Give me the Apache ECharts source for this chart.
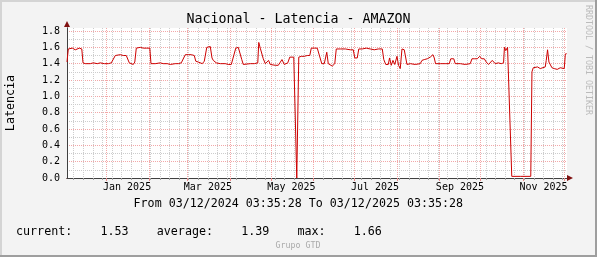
<!DOCTYPE html>
<html>
<head>
<meta charset="utf-8">
<script src="https://cdn.jsdelivr.net/npm/echarts@6/dist/echarts.min.js"></script>
<style>
html,body{margin:0;padding:0;background:#f3f3f3;}
#chart{width:597px;height:257px;}
</style>
</head>
<body>
<div id="chart"></div>
<script>
// ---- data (days since 03/12/2024 03:35:28, latency values) ----
const days = [0,0.95,2.41,3.87,5.33,6.06,7.52,8.98,10.80,11.68,13.36,17.01,19.20,22.12,24.31,27.23,30.15,32.34,33.80,35.26,36.72,38.91,41.09,43.28,44.74,45.47,46.93,48.39,49.49,50.58,52.04,53.50,55.69,57.88,60.44,61.31,64.45,68.10,70.29,71.75,73.21,75.40,76.86,79.05,81.24,83.43,84.89,86.35,88.54,90.73,92.92,94.01,95.84,97.30,98.76,100.22,102.04,103.14,104.60,105.84,106.79,107.88,108.98,111.90,115.55,117.74,119.93,121.39,123.21,125.04,126.50,127.59,128.69,130.15,133.80,136.72,139.27,140.00,141.09,142.19,143.28,144.74,146.20,147.15,148.39,149.85,152.04,154.23,155.69,156.93,157.88,158.61,159.71,161.17,162.63,164.09,165.55,167.01,167.74,168.47,169.20,171.02,173.21,175.40,177.23,178.32,180.51,182.70,184.16,185.99,187.81,188.91,189.64,190.73,192.19,193.65,195.47,196.57,199.49,203.14,206.79,208.98,210.07,211.90,212.99,215.55,218.47,221.39,224.31,227.23,230.15,231.24,232.70,234.53,235.47,236.72,237.96,239.27,240.88,242.04,243.28,244.53,246.20,248.18,250.58,254.23,257.88,259.12,260.80,262.99,265.18,267.15,268.10,269.05,272.48,276.13,279.05,280.15,281.24,282.34,283.43,287.08,290.73,294.38,295.62,297.30,299.49,301.31,302.77,304.60,306.06,307.74,308.98,310.44,311.53,312.63,314.82,317.01,318.69,319.34,320.29,321.02,321.61,322.34,324.67,330.88,338.54,339.42,340.36,341.82,343.50,345.47,346.93,349.12,349.85,350.80,351.82,352.77,354.01,355.69,357.88,360.07,361.53,362.99,363.72,364.45];
const latency = [1.42,1.58,1.60,1.59,1.58,1.57,1.59,1.59,1.58,1.41,1.40,1.40,1.41,1.40,1.41,1.40,1.40,1.41,1.41,1.50,1.51,1.51,1.50,1.50,1.49,1.41,1.40,1.39,1.42,1.59,1.58,1.60,1.59,1.59,1.59,1.40,1.40,1.41,1.40,1.39,1.40,1.39,1.38,1.40,1.40,1.41,1.42,1.51,1.51,1.51,1.50,1.43,1.42,1.43,1.40,1.43,1.60,1.61,1.61,1.47,1.44,1.45,1.41,1.40,1.40,1.39,1.39,1.40,1.59,1.60,1.59,1.45,1.39,1.40,1.40,1.40,1.41,1.66,1.59,1.60,1.46,1.40,1.41,1.44,1.39,1.38,1.38,1.38,1.39,1.45,1.43,1.39,1.40,1.41,1.48,1.48,1.48,1.48,0,0,1.48,1.49,1.49,1.50,1.50,1.59,1.59,1.59,1.58,1.40,1.40,1.42,1.54,1.40,1.38,1.37,1.40,1.58,1.58,1.58,1.57,1.57,1.47,1.47,1.58,1.58,1.59,1.58,1.57,1.58,1.58,1.45,1.39,1.39,1.47,1.38,1.44,1.39,1.49,1.38,1.34,1.58,1.57,1.39,1.40,1.39,1.40,1.44,1.45,1.46,1.48,1.51,1.47,1.40,1.40,1.40,1.40,1.46,1.46,1.46,1.40,1.40,1.39,1.40,1.46,1.46,1.46,1.49,1.46,1.46,1.42,1.39,1.40,1.44,1.44,1.40,1.41,1.40,1.41,1.60,1.56,1.56,1.60,1.58,0.02,0.02,0.02,1.30,1.35,1.35,1.36,1.34,1.35,1.36,1.44,1.57,1.42,1.40,1.35,1.34,1.33,1.35,1.33,1.34,1.50,1.53];

// tick labels
const yTickLabels = [0.0,0.2,0.4,0.6,0.8,1.0,1.2,1.4,1.6,1.8];
const yMinorTicks = [0.1,0.3,0.5,0.7,0.9,1.1,1.3,1.5,1.7];
const xTickLabels = ['Jan 2025','Mar 2025','May 2025','Jul 2025','Sep 2025','Nov 2025'];
const xLabelMonths = [0,2,4,6,8,10];
const statNames = ['current:','average:','max:'];
const statValues = ['1.53','1.39','1.66'];

const titleText = 'Nacional - Latencia - AMAZON';
const rangeText = 'From 03/12/2024 03:35:28 To 03/12/2025 03:35:28';
const yName = 'Latencia';

// ---- axis helpers (calendar) ----
const START = Date.UTC(2024, 11, 3, 3, 35, 28);
const DAYMS = 86400000;
const dayOf = (y, m, d) => (Date.UTC(y, m, d) - START) / DAYMS;
const TOTAL = 365;
const monthStarts = [];
for (let m = 0; m < 12; m++) monthStarts.push(dayOf(2025, m, 1));
const weekLines = [];
for (let d = dayOf(2024, 11, 8); d < TOTAL; d += 7) weekLines.push(d);
const labelPos = xLabelMonths.map(m => dayOf(2025, m, 1) + 15);

const FONT = 'DejaVu Sans Mono';
const seriesData = days.map((d, i) => [d, latency[i]]);

let statLine = '';
statNames.forEach((n, i) => {
  statLine += (i ? '    ' : '') + n + '    ' + statValues[i];
});

const chart = echarts.init(document.getElementById('chart'), null, {renderer: 'canvas'});
const YMAX = 1.8 * 150 / 147;
const MINOR = '#cdcdcd';
const MAJOR = '#f2a8a8';

chart.setOption({
  backgroundColor: '#f3f3f3',
  animation: false,
  grid: {left: 67, right: 30, top: 28, bottom: 79, show: true, backgroundColor: '#ffffff', borderWidth: 0, containLabel: false},
  xAxis: [
    {
      type: 'value', min: 0, max: TOTAL, position: 'bottom',
      axisLine: {show: true, lineStyle: {color: '#801010', width: 1}, symbol: ['none', 'triangle'], symbolSize: [6, 6], symbolOffset: [0, 3]},
      axisTick: {show: true, customValues: weekLines, length: 2, lineStyle: {color: '#a0a0a0'}},
      axisLabel: {
        show: true, customValues: labelPos, margin: 4, fontFamily: FONT, fontSize: 10, color: '#000',
        formatter: function (v) {
          for (let i = 0; i < labelPos.length; i++) if (Math.abs(labelPos[i] - v) < 0.01) return xTickLabels[i];
          return '';
        }
      },
      splitLine: {show: true, lineStyle: {color: MINOR, type: [1, 1], width: 1}}
    },
    {
      type: 'value', min: 0, max: TOTAL, position: 'bottom',
      axisLine: {show: true, lineStyle: {color: '#404040', width: 1}},
      axisTick: {show: true, customValues: monthStarts, length: 3, lineStyle: {color: '#e88a8a'}},
      axisLabel: {show: false},
      splitLine: {show: true, lineStyle: {color: MAJOR, type: [1, 1], width: 1}}
    }
  ],
  yAxis: [
    {
      type: 'value', min: 0, max: YMAX, position: 'left',
      axisLine: {show: true, lineStyle: {color: '#801010', width: 1}, symbol: ['none', 'triangle'], symbolSize: [6, 6], symbolOffset: [0, 4]},
      axisTick: {show: false, customValues: yMinorTicks},
      axisLabel: {show: false},
      splitLine: {show: true, lineStyle: {color: MINOR, type: [1, 1], width: 1}}
    },
    {
      type: 'value', min: 0, max: YMAX, position: 'left',
      axisLine: {show: true, lineStyle: {color: '#404040', width: 1}},
      axisTick: {show: false, customValues: yTickLabels.slice(1)},
      axisLabel: {show: true, customValues: yTickLabels, margin: 7, fontFamily: FONT, fontSize: 10, color: '#000',
        formatter: v => v.toFixed(1)},
      splitLine: {show: true, lineStyle: {color: MAJOR, type: [1, 1], width: 1}}
    }
  ],
  series: [{
    type: 'line', xAxisIndex: 1, yAxisIndex: 1, data: seriesData,
    showSymbol: false, symbol: 'none', smooth: false,
    lineStyle: {color: '#cc0000', width: 1},
    silent: true, z: 5
  }],
  graphic: [
    {type: 'text', x: 298.5, y: 20, style: {text: titleText, font: '13.3px "DejaVu Sans Mono"', fill: '#000', align: 'center', verticalAlign: 'middle'}},
    {type: 'text', x: 10.7, y: 103, rotation: Math.PI / 2, style: {text: yName, font: '11.7px "DejaVu Sans Mono"', fill: '#000', align: 'center', verticalAlign: 'middle'}},
    {type: 'text', x: 298.3, y: 204.3, style: {text: rangeText, font: '11.65px "DejaVu Sans Mono"', fill: '#000', align: 'center', verticalAlign: 'middle'}},
    {type: 'text', x: 16, y: 232.3, style: {text: statLine, font: '11.7px "DejaVu Sans Mono"', fill: '#000', align: 'left', verticalAlign: 'middle'}},
    {type: 'text', x: 298, y: 245.7, style: {text: 'Grupo GTD', font: '8.3px "DejaVu Sans Mono"', fill: '#aaaaaa', align: 'center', verticalAlign: 'middle'}},
    {type: 'text', x: 587.7, y: 60, rotation: -Math.PI / 2, style: {text: 'RRDTOOL / TOBI OETIKER', font: '8.3px "DejaVu Sans Mono"', fill: '#bbbbbb', align: 'center', verticalAlign: 'middle'}},
    {type: 'rect', shape: {x: 0, y: 0, width: 597, height: 2}, style: {fill: '#d4d4d4'}, silent: true},
    {type: 'rect', shape: {x: 0, y: 0, width: 2, height: 257}, style: {fill: '#d4d4d4'}, silent: true},
    {type: 'rect', shape: {x: 0, y: 255, width: 597, height: 2}, style: {fill: '#9e9e9e'}, silent: true},
    {type: 'rect', shape: {x: 595, y: 0, width: 2, height: 257}, style: {fill: '#9e9e9e'}, silent: true}
  ]
});
</script>
</body>
</html>
